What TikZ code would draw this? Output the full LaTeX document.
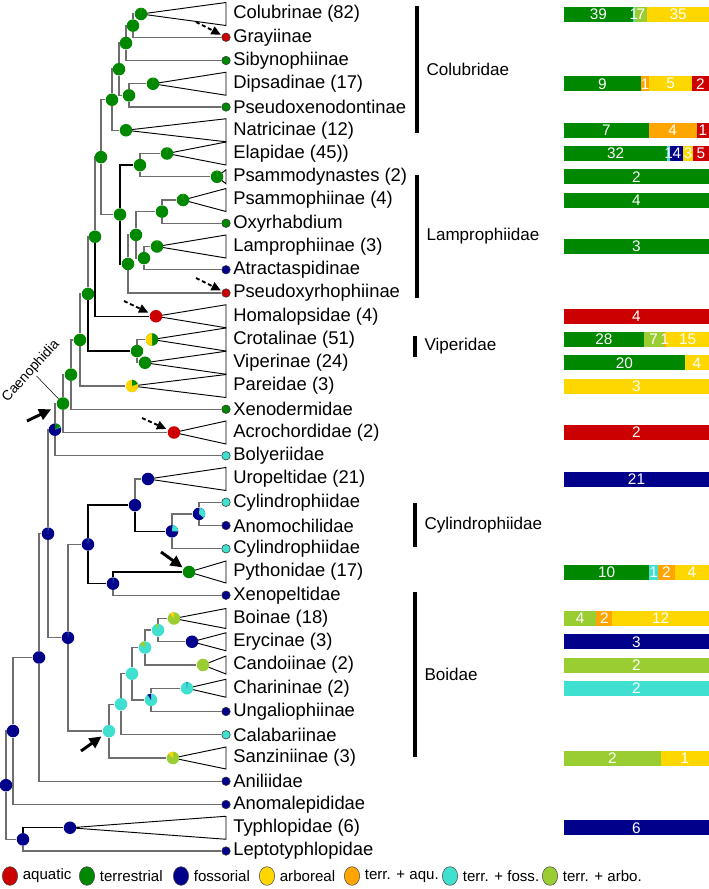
\documentclass[tikz,border=0pt]{standalone}
\usepackage{fontspec}
\setmainfont{Liberation Sans}
\usepackage{tikz}
\usetikzlibrary{positioning,backgrounds,arrows.meta,shapes.geometric}
\definecolor{aqua}{HTML}{CC0000}
\definecolor{terr}{HTML}{008800}
\definecolor{foss}{HTML}{00008B}
\definecolor{arbo}{HTML}{FFD700}
\definecolor{terraqu}{HTML}{FFA500}
\definecolor{terrfoss}{HTML}{40E0D0}
\definecolor{terrarbo}{HTML}{9ACD32}
\definecolor{branch}{HTML}{6E6E6E}

\newcommand{\pierad}{4.7pt}
\newcommand{\habslice}[4]{\fill[#4] (#1.center) -- ++(#2:\pierad) arc[start angle=#2, end angle=#3, radius=\pierad] -- cycle;}
\newcommand{\clade}[3]{\draw[tri] (#1.center) -- (226,#2-#3) -- (226,#2+#3) -- cycle;}
\newcommand{\habbar}[4]{%
  \xdef\barx{564}%
  \foreach \cnt/\col in {#4} {\pgfmathsetmacro\barend{\barx+145*\cnt/#3}%
    \fill[\col] (\barx,#2-7.5) rectangle (\barend,#2+7.5);\xdef\barx{\barend}}%
  \xdef\barx{564}%
  \foreach \cnt/\col [count=\k] in {#4} {\pgfmathsetmacro\barend{\barx+145*\cnt/#3}%
    \node[barnum] (#1-\k) at ({(\barx+\barend)/2},#2) {\cnt};\xdef\barx{\barend}}%
}

\begin{document}
\begin{tikzpicture}[x=0.75pt, y=-0.75pt,
    ancpie/.style={circle, fill=#1, inner sep=0pt, minimum size=9.4pt},
    leaf/.style={circle, fill=#1, draw=black!80, line width=0.4pt, inner sep=0pt, minimum size=6.4pt},
    taxon/.style={anchor=west, inner sep=0pt, font=\fontsize{13.8}{16}\selectfont},
    br/.style={draw=branch, line width=1.1pt},
    tri/.style={draw=black, line width=0.7pt},
    famline/.style={draw=black, line width=2.3pt},
    famlab/.style={anchor=west, inner sep=0pt, font=\fontsize{12.8}{15}\selectfont},
    barnum/.style={text=white, inner sep=0pt, font=\fontsize{11.5}{13}\selectfont},
    legdot/.style={ellipse, fill=#1, draw=black!70, line width=0.4pt, inner sep=0pt, minimum width=11.5pt, minimum height=14pt},
    legtxt/.style={inner sep=0pt, font=\fontsize{11.3}{13}\selectfont},
    dasharr/.style={-{Triangle[length=7pt,width=6.5pt]}, line width=1.4pt, dash pattern=on 3pt off 2pt},
    bigarr/.style={-{Triangle[length=9pt,width=8.5pt]}, line width=2.2pt}]
  \useasboundingbox (0,0) rectangle (709,889);

  \path
  (141,14) node[ancpie=terr] (colub) {}
  (226,37.25) node[leaf=aqua] (grayi) {}
  (226,60.5) node[leaf=terr] (sibyn) {}
  (153,83.75) node[ancpie=terr] (dipsa) {}
  (226,107) node[leaf=terr] (pseux) {}
  (126,130.25) node[ancpie=terr] (natri) {}
  (167,153.5) node[ancpie=terr] (elapi) {}
  (217,176.75) node[ancpie=terr] (psmdy) {}
  (183,200) node[ancpie=terr] (psmph) {}
  (226,223.25) node[leaf=terr] (oxyrh) {}
  (157,246.5) node[ancpie=terr] (lampr) {}
  (226,269.75) node[leaf=foss] (atrac) {}
  (226,293) node[leaf=aqua] (pseuy) {}
  (156,316.25) node[ancpie=aqua] (homal) {}
  (152,339.5) node[ancpie=terr] (crota) {}
  (145,362.75) node[ancpie=terr] (viper) {}
  (132,386) node[ancpie=arbo] (parei) {}
  (226,409.25) node[leaf=terr] (xenod) {}
  (174,432.5) node[ancpie=aqua] (acroc) {}
  (226,455.75) node[leaf=terrfoss] (bolye) {}
  (148,479) node[ancpie=foss] (urope) {}
  (226,502.25) node[leaf=terrfoss] (cyli1) {}
  (226,525.5) node[leaf=foss] (anomo) {}
  (226,548.75) node[leaf=terrfoss] (cyli2) {}
  (189,572) node[ancpie=terr] (pytho) {}
  (226,595.25) node[leaf=foss] (xenop) {}
  (174,618.5) node[ancpie=terrarbo] (boina) {}
  (192,641.75) node[ancpie=foss] (eryci) {}
  (203,665) node[ancpie=terrarbo] (cando) {}
  (187,688.25) node[ancpie=terrfoss] (chari) {}
  (226,711.5) node[leaf=foss] (ungal) {}
  (226,734.75) node[leaf=terrfoss] (calab) {}
  (173,758) node[ancpie=terrarbo] (sanzi) {}
  (226,781.25) node[leaf=foss] (anili) {}
  (226,804.5) node[leaf=foss] (anoma) {}
  (70,827.75) node[ancpie=foss] (typhl) {}
  (226,851) node[leaf=foss] (lepto) {}
  ;

  \path
  (133,25.63) node[ancpie=terr] (nA) {}
  (126,43.06) node[ancpie=terr] (nB) {}
  (129,95.38) node[ancpie=terr] (nD) {}
  (119,69.22) node[ancpie=terr] (nC) {}
  (112,99.73) node[ancpie=terr] (nE) {}
  (140,165.13) node[ancpie=terr] (nG) {}
  (162,211.63) node[ancpie=terr] (nJ) {}
  (144,258.13) node[ancpie=terr] (nL) {}
  (136,234.88) node[ancpie=terr] (nK) {}
  (128,263.94) node[ancpie=terr] (nI) {}
  (120,214.53) node[ancpie=terr] (nH) {}
  (101,157.13) node[ancpie=terr] (nF) {}
  (95,236.69) node[ancpie=terr] (nM) {}
  (137,351.13) node[ancpie=terr] (nV) {}
  (88,293.9) node[ancpie=terr] (nN) {}
  (80,339.95) node[ancpie=terr] (nO) {}
  (71,374.6) node[ancpie=terr] (nP) {}
  (63,403.55) node[ancpie=terr] (caeno) {}
  (55,429.65) node[ancpie=foss] (nQ) {}
  (199,513.88) node[ancpie=foss] (nCy1) {}
  (172,531.31) node[ancpie=foss] (nCy2) {}
  (135,505.16) node[ancpie=foss] (nU) {}
  (113,583.63) node[ancpie=foss] (nPX) {}
  (88,544.39) node[ancpie=foss] (nR) {}
  (158,630.13) node[ancpie=terrfoss] (nB1) {}
  (145,647.56) node[ancpie=terrfoss] (nB2) {}
  (151,699.88) node[ancpie=terrfoss] (nB3) {}
  (132,673.72) node[ancpie=terrfoss] (nB4) {}
  (121,704.23) node[ancpie=terrfoss] (nB5) {}
  (109,731.1) node[ancpie=terrfoss] (boid) {}
  (68,637.75) node[ancpie=foss] (nS) {}
  (48,533.7) node[ancpie=foss] (nT) {}
  (39,657.47) node[ancpie=foss] (nW) {}
  (13,730.99) node[ancpie=foss] (nX) {}
  (23,839.38) node[ancpie=foss] (nY) {}
  (6,785.18) node[ancpie=foss] (root) {}
  ;

  \habslice{crota}{90}{270}{arbo}
  \habslice{parei}{20}{90}{terr}
  \habslice{nQ}{30}{90}{terr}
  \habslice{nQ}{22}{30}{terrfoss}
  \habslice{nCy1}{-40}{85}{terrfoss}
  \habslice{nCy2}{0}{85}{terrfoss}
  \habslice{boina}{90}{130}{arbo}
  \habslice{sanzi}{90}{135}{arbo}
  \habslice{nB1}{90}{110}{terrarbo}
  \habslice{nB2}{90}{150}{terrarbo}
  \habslice{nB3}{90}{125}{foss}
  \habslice{chari}{87}{93}{foss}
  \foreach \q in {colub, dipsa, psmdy, psmph, lampr, elapi}
    \habslice{\q}{87}{91}{terrarbo};
  \foreach \q in {nR, nS, nT, nPX}
    \habslice{\q}{86}{92}{terrfoss};

  \foreach \t [count=\i from 0] in {Colubrinae (82), Grayiinae, Sibynophiinae,
      Dipsadinae (17), Pseudoxenodontinae, Natricinae (12), Elapidae (45)),
      Psammodynastes (2), Psammophiinae (4), Oxyrhabdium, Lamprophiinae (3),
      Atractaspidinae, Pseudoxyrhophiinae, Homalopsidae (4), Crotalinae (51),
      Viperinae (24), Pareidae (3), Xenodermidae, Acrochordidae (2), Bolyeriidae,
      Uropeltidae (21), Cylindrophiidae, Anomochilidae, Cylindrophiidae,
      Pythonidae (17), Xenopeltidae, Boinae (18), Erycinae (3), Candoiinae (2),
      Charininae (2), Ungaliophiinae, Calabariinae, Sanziniinae (3), Aniliidae,
      Anomalepididae, Typhlopidae (6), Leptotyphlopidae}
    \node[taxon] (taxon\i) at (233,{14+23.25*\i}) {\t};

  \draw[famline] (417,6) -- (417,133) node[famlab, midway, right=6pt] (colubridae) {Colubridae};
  \draw[famline] (417,175) -- (417,298) node[famlab, midway, right=6pt] (lamprophiidae) {Lamprophiidae};
  \draw[famline] (415,336) -- (415,357) node[famlab, midway, right=6pt] (viperidae) {Viperidae};
  \draw[famline] (415,503) -- (415,547) node[famlab, midway, right=6pt] (cylindrophiidae) {Cylindrophiidae};
  \draw[famline] (415,592) -- (415,757) node[famlab, midway, right=6pt] (boidae) {Boidae};

  \node[rotate=48, inner sep=0.5pt, font=\fontsize{10.4}{12}\selectfont] (caenoLab) at (31,371) {Caenophidia};
  \draw[line width=0.4pt] (caenoLab.south) -- (caeno);

  \coordinate (dGray) at (196,22);
  \coordinate (dPseuy) at (196,278);
  \coordinate (dHomal) at (124,301);
  \coordinate (dAcroc) at (142,418);
  \coordinate (sCaeno) at (27,421);
  \coordinate (sPytho) at (161,552);
  \coordinate (sBoid) at (81,751);
  \draw[dasharr, shorten >=1pt] (dGray) -- (grayi);
  \draw[dasharr, shorten >=1pt] (dPseuy) -- (pseuy);
  \draw[dasharr, shorten >=1.5pt] (dHomal) -- (homal);
  \draw[dasharr, shorten >=1.5pt] (dAcroc) -- (acroc);
  \draw[bigarr, shorten >=5pt] (sCaeno) -- (caeno);
  \draw[bigarr, shorten >=1pt] (sPytho) -- (pytho);
  \draw[bigarr, shorten >=2pt] (sBoid) -- (boid);

  \habbar{bColub}{14}{82}{39/terr,1/terrfoss,7/terrarbo,35/arbo}
  \habbar{bDipsa}{83.75}{17}{9/terr,1/terraqu,5/arbo,2/aqua}
  \habbar{bNatri}{130.25}{12}{7/terr,4/terraqu,1/aqua}
  \habbar{bElapi}{153.5}{45}{32/terr,1/terrfoss,4/foss,3/arbo,5/aqua}
  \habbar{bPsmdy}{176.75}{2}{2/terr}
  \habbar{bPsmph}{200}{4}{4/terr}
  \habbar{bLampr}{246.5}{3}{3/terr}
  \habbar{bHomal}{316.25}{4}{4/aqua}
  \habbar{bCrota}{339.5}{51}{28/terr,7/terrarbo,1/terraqu,15/arbo}
  \habbar{bViper}{362.75}{24}{20/terr,4/arbo}
  \habbar{bParei}{386}{3}{3/arbo}
  \habbar{bAcroc}{432.5}{2}{2/aqua}
  \habbar{bUrope}{479}{21}{21/foss}
  \habbar{bPytho}{572}{17}{10/terr,1/terrfoss,2/terraqu,4/arbo}
  \habbar{bBoina}{618.5}{18}{4/terrarbo,2/terraqu,12/arbo}
  \habbar{bEryci}{641.75}{3}{3/foss}
  \habbar{bCando}{665}{2}{2/terrarbo}
  \habbar{bChari}{688.25}{2}{2/terrfoss}
  \habbar{bSanzi}{758}{3}{2/terrarbo,1/arbo}
  \habbar{bTyphl}{827.75}{6}{6/foss}

  \foreach \col/\txt/\xx in {aqua/aquatic/10, terr/terrestrial/87, foss/fossorial/181,
      arbo/arboreal/267, terraqu/terr. + aqu./352, terrfoss/terr. + foss./450,
      terrarbo/terr. + arbo./550} {
    \node[legdot=\col] (key-\col) at (\xx,876) {};
    \node[legtxt, right=3.5pt of key-\col] (keytxt-\col) {\txt};
  }

  \begin{scope}[on background layer]
    \fill[white] (0,0) rectangle (709,889);
    \clade{colub}{14}{11.5}
    \clade{dipsa}{83.75}{11.5}
    \clade{natri}{130.25}{11.5}
    \clade{elapi}{153.5}{11.5}
    \clade{psmdy}{176.75}{7}
    \clade{psmph}{200}{11.5}
    \clade{lampr}{246.5}{11.5}
    \clade{homal}{316.25}{11.5}
    \clade{crota}{339.5}{11.5}
    \clade{viper}{362.75}{11.5}
    \clade{parei}{386}{11.5}
    \clade{acroc}{432.5}{11.5}
    \clade{urope}{479}{11.5}
    \clade{pytho}{572}{11}
    \clade{boina}{618.5}{10}
    \clade{eryci}{641.75}{9}
    \clade{cando}{665}{9}
    \clade{chari}{688.25}{9}
    \clade{sanzi}{758}{11}
    \clade{typhl}{827.75}{11.5}
    \foreach \p/\q in {nA/colub, nA/grayi, nB/nA, nB/sibyn, nD/dipsa, nD/pseux,
        nC/nB, nC/nD, nE/nC, nE/natri, nG/elapi, nG/psmdy, nJ/psmph, nJ/oxyrh,
        nL/lampr, nL/atrac, nK/nJ, nK/nL, nI/nK, nI/pseuy, nF/nE, nF/nH, nM/nF,
        nV/crota, nV/viper, nN/nM, nO/nN, nO/parei, nP/nO, nP/xenod, caeno/nP,
        caeno/acroc, nQ/caeno, nQ/bolye, nCy1/cyli1, nCy1/anomo, nCy2/nCy1,
        nCy2/cyli2, nU/urope, nPX/xenop, nB1/boina, nB1/eryci, nB2/nB1, nB2/cando,
        nB3/chari, nB3/ungal, nB4/nB2, nB4/nB3, nB5/nB4, nB5/calab, boid/nB5,
        boid/sanzi, nS/nR, nS/boid, nT/nQ, nT/nS, nW/nT, nW/anili, nX/nW,
        nX/anoma, nY/lepto, root/nX, root/nY}
      \draw[br] (\p) |- (\q);
    \foreach \p/\q in {nH/nG, nH/nI, nM/homal, nN/nV, nU/nCy2, nPX/pytho,
        nR/nU, nR/nPX, nY/typhl}
      \draw[br, draw=black] (\p) |- (\q);
  \end{scope}
\end{tikzpicture}
\end{document}
